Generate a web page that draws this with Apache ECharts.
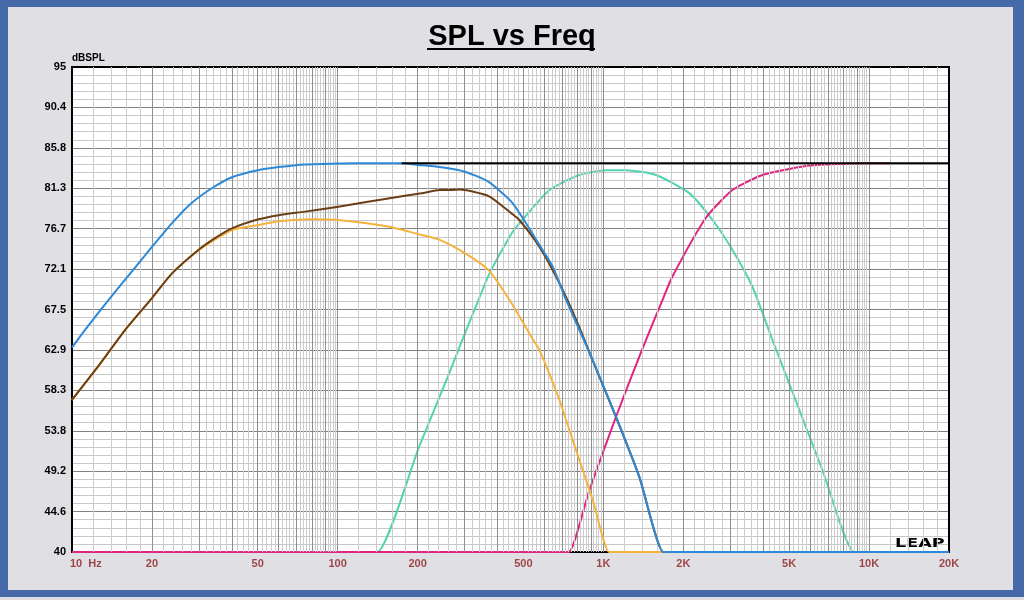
<!DOCTYPE html>
<html>
<head>
<meta charset="utf-8">
<title>SPL vs Freq</title>
<script src="https://cdn.jsdelivr.net/npm/echarts@6/dist/echarts.min.js"></script>
<style>
  html, body { margin: 0; padding: 0; background: #4669a9; }
  #chart { width: 1024px; height: 600px; }
</style>
</head>
<body>
<div id="chart"></div>
<script>
// tick labels
var yTickLabels = ['40', '44.6', '49.2', '53.8', '58.3', '62.9', '67.5', '72.1', '76.7', '81.3', '85.8', '90.4', '95'];
var xTickFreqs = [10, 20, 50, 100, 200, 500, 1000, 2000, 5000, 10000, 20000];
var xTickLabels = ['10  Hz', '20', '50', '100', '200', '500', '1K', '2K', '5K', '10K', '20K'];

// log grid: lines at decade * step
var gridDecades = [10, 100, 1000, 10000];
var gridMajorSteps = [1, 2, 3, 4, 5, 6, 7, 8, 9];
var gridMinorSteps = [1.2, 1.4, 1.6, 1.8, 2.2, 2.4, 2.6, 2.8, 3.2, 3.4, 3.6, 3.8, 4.2, 4.4, 4.6, 4.8,
  5.2, 5.4, 5.6, 5.8, 6.2, 6.4, 6.6, 6.8, 7.2, 7.4, 7.6, 7.8, 8.2, 8.4, 8.6, 8.8, 9.2, 9.4, 9.6, 9.8];

// curves (Hz / dBSPL), floor is 40
var blueF  = [10, 11.2, 14, 17, 20, 23.8, 28, 33.6, 40, 50, 60, 75, 100, 115, 174, 201, 242, 301, 369, 451, 498, 575, 645, 724, 912, 1116, 1366, 1681, 1755, 20000];
var blueDb = [63.2, 65.2, 68.9, 72.0, 74.6, 77.3, 79.5, 81.25, 82.5, 83.3, 83.65, 83.95, 84.05, 84.08, 84.08, 83.9, 83.65, 83.13, 82.0, 79.7, 77.84, 74.8, 72.36, 68.58, 61.77, 55.34, 48.54, 40, 40, 40];

var brownF  = [10, 12.5, 15.86, 20, 23.8, 29.9, 35, 40, 50.3, 60, 75.3, 100.6, 155, 207, 242, 268, 287, 319, 373, 451, 483, 575, 683, 812, 912, 1116, 1366, 1681, 1755, 20000];
var brownDb = [57.24, 61.0, 65.2, 68.8, 71.6, 74.25, 75.7, 76.7, 77.73, 78.2, 78.6, 79.16, 80.1, 80.68, 81.05, 81.05, 81.1, 80.9, 80.3, 78.4, 77.65, 74.6, 70.5, 65.5, 61.7, 55.3, 48.5, 40, 40, 40];

var orangeF  = [10, 12.5, 15.86, 20, 23.8, 29.9, 40, 50.3, 60, 79.8, 100.6, 155, 207, 242, 301, 369, 443, 542, 575, 683, 789, 912, 1050, 1096, 20000];
var orangeDb = [57.24, 61.0, 65.2, 68.8, 71.6, 74.2, 76.5, 77.08, 77.5, 77.73, 77.65, 76.9, 75.95, 75.4, 73.9, 72.0, 68.6, 64.15, 62.9, 57.24, 51.57, 45.9, 40, 40, 40];

var tealF  = [10, 135, 141, 203, 264, 287, 337, 373, 451, 483, 627, 812, 1023, 1217, 1578, 2106, 2576, 3062, 3640, 4330, 5003, 6676, 8782, 9170, 20000];
var tealDb = [40, 40, 40, 52.0, 60.4, 63.2, 68.4, 71.6, 76.1, 77.27, 81.05, 82.75, 83.3, 83.3, 82.75, 80.7, 77.65, 74.25, 70.08, 64.04, 59.13, 49.3, 40, 40, 40];

var magentaF  = [10, 710, 741, 886, 1116, 1405, 1681, 1823, 2433, 3062, 3971, 5781, 7713, 10000, 12000];
var magentaDb = [40, 40, 40, 47.03, 55.34, 63.1, 68.8, 71.3, 77.9, 81.05, 82.75, 83.77, 84.0, 84.08, 84.08];

var totalF  = [174, 20000];
var totalDb = [84.08, 84.08];

var FONT = '"Liberation Sans", Arial, sans-serif';
var G = { left: 72, top: 67, width: 877, height: 485 };

function pairs(f, v) {
  return f.map(function (x, i) { return [x, v[i]]; });
}

function gridLines(steps) {
  var out = [];
  gridDecades.forEach(function (d) {
    steps.forEach(function (s) {
      var f = d * s;
      if (f > 10 && f < 20000) out.push({ xAxis: f });
    });
  });
  return out;
}

function curve(name, f, v, color, z) {
  return {
    name: name,
    type: 'line',
    data: pairs(f, v),
    showSymbol: false,
    smooth: 0.2,
    z: z,
    lineStyle: { color: color, width: 2, join: 'round' },
    itemStyle: { color: color },
    silent: true
  };
}

function gridSeries(lines, color) {
  return {
    type: 'line',
    data: [[10, 40]],
    showSymbol: false,
    lineStyle: { opacity: 0 },
    z: 1,
    silent: true,
    markLine: {
      silent: true,
      symbol: 'none',
      animation: false,
      label: { show: false },
      lineStyle: { color: color, width: 1, type: 'solid' },
      emphasis: { disabled: true },
      data: lines
    }
  };
}

var chart = echarts.init(document.getElementById('chart'));

var labelData = xTickFreqs.map(function (f, i) {
  var item = { value: [f, 40] };
  if (i === 0) item.label = { align: 'left', offset: [-2, 0] };
  return item;
});

chart.setOption({
  animation: false,
  backgroundColor: 'transparent',
  title: {
    text: 'SPL vs Freq',
    left: 'center',
    top: 17,
    textStyle: { fontFamily: FONT, fontSize: 29, fontWeight: 'bold', color: '#000' }
  },
  grid: { left: G.left, top: G.top, width: G.width, height: G.height, show: true, backgroundColor: '#fff', borderWidth: 0 },
  xAxis: {
    type: 'log',
    logBase: 10,
    min: 10,
    max: 20000,
    axisLine: { show: false },
    axisTick: { show: false },
    axisLabel: { show: false },
    splitLine: { show: false }
  },
  yAxis: [
    { type: 'value', min: 40, max: 95, show: false },
    {
      type: 'value',
      min: 0,
      max: 12,
      interval: 1,
      position: 'left',
      axisLine: { show: false },
      axisTick: { show: false },
      axisLabel: {
        formatter: function (v) { return yTickLabels[v]; },
        fontFamily: FONT, fontSize: 11, fontWeight: 'bold', color: '#000', margin: 6
      },
      splitLine: { show: true, lineStyle: { color: '#808080', width: 1 } },
      minorTick: { show: false, splitNumber: 5 },
      minorSplitLine: { show: true, lineStyle: { color: '#c8c8c8', width: 1 } }
    }
  ],
  graphic: [
    { type: 'rect', z: -10, shape: { x: 8, y: 7, width: 1005, height: 583 }, style: { fill: '#e0dfe4' } },
    { type: 'rect', z: -10, shape: { x: 0, y: 597, width: 1024, height: 3 }, style: { fill: '#dcdce0' } },
    { type: 'line', shape: { x1: 427, y1: 49, x2: 595, y2: 49 }, style: { stroke: '#000', lineWidth: 2 } },
    { type: 'text', left: 72, top: 53, style: { text: 'dBSPL', font: 'bold 10px ' + FONT, fill: '#000' } },
    {
      type: 'rect', z: 2,
      shape: { x: G.left, y: G.top, width: G.width, height: G.height },
      style: { fill: 'none', stroke: '#000', lineWidth: 2 }
    },
    {
      type: 'text', z: 3, x: 895, y: 537, scaleX: 1.35,
      style: { text: 'LEAP', font: 'bold 13px "DejaVu Sans", sans-serif', fill: '#000' }
    }
  ],
  series: [
    gridSeries(gridLines(gridMinorSteps), '#cccccc'),
    gridSeries(gridLines(gridMajorSteps), '#8e8e8e'),
    curve('teal', tealF, tealDb, '#52d3b1', 3),
    curve('magenta', magentaF, magentaDb, '#e0247f', 4),
    curve('orange', orangeF, orangeDb, '#f5b23c', 5),
    curve('brown', brownF, brownDb, '#6b3f16', 6),
    curve('blue', blueF, blueDb, '#2d89d6', 7),
    curve('total', totalF, totalDb, '#000000', 8),
    {
      type: 'scatter',
      data: labelData,
      symbolSize: 1,
      itemStyle: { color: 'rgba(0,0,0,0)' },
      clip: false,
      silent: true,
      z: 9,
      label: {
        show: true,
        position: 'bottom',
        distance: 6,
        formatter: function (p) { return xTickLabels[p.dataIndex]; },
        fontFamily: FONT, fontSize: 11, fontWeight: 'bold', color: '#8b1c1c'
      }
    }
  ]
});
</script>
</body>
</html>
